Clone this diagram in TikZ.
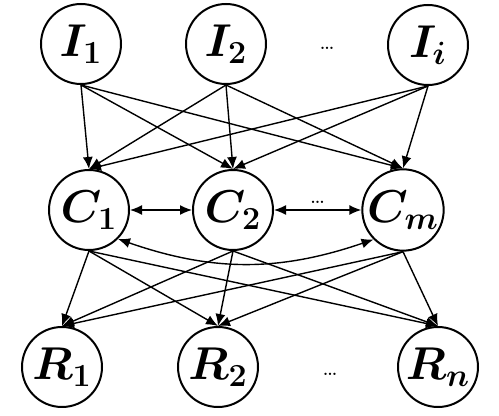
\RequirePackage{fix-cm}
\documentclass[tikz,border=0pt]{standalone}
\usepackage{amsmath, amssymb}
\usepackage{tikz}
\usetikzlibrary{arrows.meta}

\begin{document}
\begin{tikzpicture}[x=0.5pt,y=-0.5pt,
		unit/.style={circle, draw, line width=1pt, minimum size=40pt, inner sep=0pt, font=\fontsize{23}{26}\selectfont},
		link/.style={-{Latex[length=6pt,width=5pt]}, line width=0.7pt},
		twoway/.style={{Latex[length=6pt,width=5pt]}-{Latex[length=6pt,width=5pt]}, line width=0.7pt}]
		\useasboundingbox (0,0) rectangle (499,416);
		%% top row
		\node[unit] (I1) at (81,44) {$\boldsymbol{I_1}$};
		\node[unit] (I2) at (226,44) {$\boldsymbol{I_2}$};
		\node[unit] (Ii) at (428,45) {$\boldsymbol{I_i}$};
		\node[font=\large] (Idots) at (327,48) {\dots};
		%% middle row
		\node[unit] (C1) at (89,210) {$\boldsymbol{C_1}$};
		\node[unit] (C2) at (233,210) {$\boldsymbol{C_2}$};
		\node[unit] (Cm) at (403,210) {$\boldsymbol{C_m}$};
		%% bottom row
		\node[unit] (R1) at (62,367) {$\boldsymbol{R_1}$};
		\node[unit] (R2) at (218,367) {$\boldsymbol{R_2}$};
		\node[unit] (Rn) at (438,367) {$\boldsymbol{R_n}$};
		\node[font=\large] (Rdots) at (330,374) {\dots};
		%% every I feeds every C, every C feeds every R
		\foreach \i in {I1,I2,Ii}
			\foreach \c in {C1,C2,Cm}
				\draw[link] (\i.south) -- (\c.north);
		\foreach \c in {C1,C2,Cm}
			\foreach \r in {R1,R2,Rn}
				\draw[link] (\c.south) -- (\r.north);
		%% links among the C nodes
		\draw[twoway] (C1.east) -- (C2.west);
		\draw[twoway] (C2.east) -- node[font=\large, below=-8pt] {\dots} (Cm.west);
		\draw[twoway] (C1.south east) to[bend right=19] (Cm.south west);
	\end{tikzpicture}
\end{document}
